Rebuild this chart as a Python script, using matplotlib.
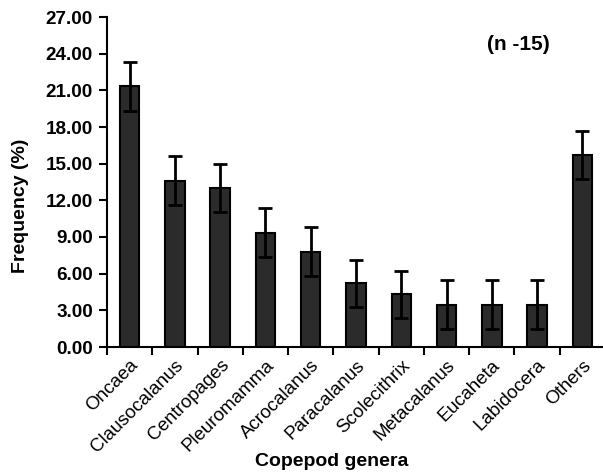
import matplotlib
matplotlib.use("Agg")
import matplotlib.pyplot as plt
import numpy as np

genera = ["Oncaea", "Clausocalanus", "Centropages", "Pleuromamma", "Acrocalanus",
          "Paracalanus", "Scolecithrix", "Metacalanus", "Eucaheta", "Labidocera", "Others"]
freq = [21.35, 13.6, 13.0, 9.35, 7.8, 5.2, 4.3, 3.45, 3.45, 3.45, 15.7]
err = [2.0, 2.0, 1.95, 2.0, 2.0, 1.95, 1.95, 2.0, 2.0, 2.0, 1.95]
yticks = [0, 3, 6, 9, 12, 15, 18, 21, 24, 27]

plt.rcParams['font.family'] = ['Liberation Sans', 'DejaVu Sans']

fig = plt.figure(figsize=(6.03, 4.76), dpi=100)
ax = fig.add_axes([107/603, 1 - 347/476, 498/603, 330/476])

x = np.arange(len(genera))
ax.bar(x, freq, width=0.43, color='#2b2b2b', edgecolor='black', linewidth=1.5, zorder=2)
ax.errorbar(x, freq, yerr=err, fmt='none', ecolor='black', elinewidth=2,
            capsize=5, capthick=2, zorder=3)

ax.set_xlim(-0.5, len(genera) - 0.5)
ax.set_ylim(0, 27)
ax.set_yticks(yticks)
ax.set_yticklabels([f"{v:.2f}" for v in yticks], fontsize=13.6, fontweight='bold')

ax.set_xticks(x)
ax.set_xticklabels(genera, rotation=45, ha='right', rotation_mode='anchor', fontsize=13.5)
ax.set_xticks(np.arange(-0.5, len(genera) - 0.5, 1), minor=True)
ax.tick_params(axis='x', which='major', length=0, pad=7)
ax.tick_params(axis='x', which='minor', length=6, width=1.5, direction='out')
ax.tick_params(axis='y', length=6, width=1.5, direction='out', pad=4)

for side in ['top', 'right']:
    ax.spines[side].set_visible(False)
for side in ['left', 'bottom']:
    ax.spines[side].set_linewidth(1.5)

fig.text(21/603, 1 - 206/476, "Frequency (%)", rotation=90, ha='center', va='center',
         fontsize=14, fontweight='bold')
fig.text(332/603, 1 - 461/476, "Copepod genera", ha='center', va='center',
         fontsize=14, fontweight='bold')
fig.text(518/603, 1 - 44/476, "(n -15)", ha='center', va='center',
         fontsize=15, fontweight='bold')

fig.savefig("out.png", dpi=100)
